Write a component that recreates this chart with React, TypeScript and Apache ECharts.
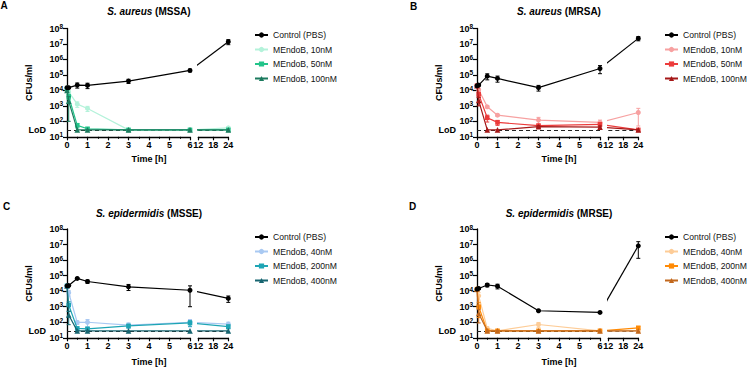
import React, { useEffect, useRef } from 'react';
import * as echarts from 'echarts';

const FONT = '"Liberation Sans", Arial, Helvetica, sans-serif';

// sampling times [h]
const TIMES = [0, 0.083, 0.5, 1, 3, 6, 24];
const LOD = 28;

// ---------- Panel A: S. aureus (MSSA)
const A_LABELS = ['Control (PBS)', 'MEndoB, 10nM', 'MEndoB, 50nM', 'MEndoB, 100nM'];
const A_COLORS = ['#000000', '#b4f2da', '#23c48a', '#1c7a5e'];
const A_CONTROL = [1.5e4, 1.5e4, 2.2e4, 2.1e4, 4.0e4, 1.95e5, 1.4e7];
const A_CONTROL_SD = [0, 0, 8e3, 8e3, 1.2e4, 4e4, 5e6];
const A_10NM = [1.5e4, 8.0e3, 1.3e3, 6.8e2, 28, 28, 38];
const A_10NM_SD = [0, 2e3, 5e2, 2.5e2, 0, 0, 6];
const A_50NM = [1.2e4, 4.0e3, 55, 33, 28, 28, 28];
const A_50NM_SD = [0, 1.5e3, 18, 6, 0, 0, 4];
const A_100NM = [1.0e4, 2.0e3, 28, 28, 28, 28, 28];
const A_100NM_SD = [0, 1.9e3, 0, 0, 0, 0, 0];

// ---------- Panel B: S. aureus (MRSA)
const B_LABELS = ['Control (PBS)', 'MEndoB, 10nM', 'MEndoB, 50nM', 'MEndoB, 100nM'];
const B_COLORS = ['#000000', '#f7a1a1', '#ec3b3b', '#a51818'];
const B_CONTROL = [2.0e4, 2.2e4, 8.3e4, 5.9e4, 1.5e4, 2.6e5, 2.3e7];
const B_CONTROL_SD = [0, 3e3, 3.5e4, 2.5e4, 6e3, 1.4e5, 7e6];
const B_10NM = [2.0e4, 1.1e4, 8.7e2, 2.5e2, 1.2e2, 85, 3.7e2];
const B_10NM_SD = [0, 3e3, 1.5e2, 40, 60, 35, 3.2e2];
const B_50NM = [2.0e4, 5.5e3, 1.7e2, 85, 52, 63, 28];
const B_50NM_SD = [0, 2e3, 80, 30, 15, 20, 0];
const B_100NM = [2.0e4, 2.2e3, 28, 28, 45, 42, 28];
const B_100NM_SD = [0, 1.2e3, 0, 0, 8, 8, 0];

// ---------- Panel C: S. epidermidis (MSSE)
const C_LABELS = ['Control (PBS)', 'MEndoB, 40nM', 'MEndoB, 200nM', 'MEndoB, 400nM'];
const C_COLORS = ['#000000', '#a9c9f2', '#1ea5b5', '#176570'];
const C_CONTROL = [2.2e4, 2.3e4, 6.6e4, 4.2e4, 1.9e4, 1.15e4, 3.4e3];
const C_CONTROL_SD = [0, 2e3, 8e3, 1e4, 8e3, 1.05e4, 1.5e3];
const C_40NM = [2.2e4, 7.9e3, 97, 100, 66, 100, 76];
const C_40NM_SD = [0, 3e3, 25, 50, 25, 50, 25];
const C_200NM = [2.2e4, 1.3e3, 40, 38, 58, 90, 52];
const C_200NM_SD = [0, 8e2, 10, 8, 15, 35, 15];
const C_400NM = [2.2e4, 2.9e2, 28, 28, 28, 28, 28];
const C_400NM_SD = [0, 2.2e2, 0, 0, 0, 0, 0];

// ---------- Panel D: S. epidermidis (MRSE)
const D_LABELS = ['Control (PBS)', 'MEndoB, 40nM', 'MEndoB, 200nM', 'MEndoB, 400nM'];
const D_COLORS = ['#000000', '#fdcc97', '#ff8a05', '#c2681d'];
const D_CONTROL = [1.35e4, 1.5e4, 2.5e4, 2.1e4, 5.5e2, 4.3e2, 8.3e6];
const D_CONTROL_SD = [0, 2e3, 6e3, 7e3, 60, 60, 7e6];
const D_40NM = [1.35e4, 5.0e3, 40, 28, 72, 28, 28];
const D_40NM_SD = [0, 3e3, 12, 0, 25, 0, 0];
const D_200NM = [1.35e4, 1.0e3, 28, 28, 28, 28, 44];
const D_200NM_SD = [0, 8e2, 0, 0, 0, 0, 8];
const D_400NM = [1.35e4, 3.7e2, 28, 28, 28, 28, 28];
const D_400NM_SD = [0, 2.8e2, 0, 0, 0, 0, 0];

const SYMBOLS = ['circle', 'circle', 'rect', 'triangle'];
const SYMBOL_SIZES = [5, 5, 4.6, 5.6];

type PanelDef = {
  key: string; letter: string; species: string; strain: string;
  ox: number; oy: number; top: number; height: number; legendTop: number;
  labels: string[]; colors: string[]; values: number[][]; sds: number[][];
  letterPos: [number, number]; titleY: number; timeY: number;
};

const PANELS: PanelDef[] = [
  { key: 'A', letter: 'A', species: 'S. aureus', strain: 'MSSA', ox: 0, oy: 0, top: 28.5, height: 108.3, legendTop: 30,
    labels: A_LABELS, colors: A_COLORS, values: [A_CONTROL, A_10NM, A_50NM, A_100NM], sds: [A_CONTROL_SD, A_10NM_SD, A_50NM_SD, A_100NM_SD],
    letterPos: [0.5, 0.5], titleY: 11, timeY: 159 },
  { key: 'B', letter: 'B', species: 'S. aureus', strain: 'MRSA', ox: 410, oy: 0, top: 28.5, height: 108.3, legendTop: 30,
    labels: B_LABELS, colors: B_COLORS, values: [B_CONTROL, B_10NM, B_50NM, B_100NM], sds: [B_CONTROL_SD, B_10NM_SD, B_50NM_SD, B_100NM_SD],
    letterPos: [410, 1], titleY: 11, timeY: 159 },
  { key: 'C', letter: 'C', species: 'S. epidermidis', strain: 'MSSE', ox: 0, oy: 200, top: 229, height: 108.8, legendTop: 232,
    labels: C_LABELS, colors: C_COLORS, values: [C_CONTROL, C_40NM, C_200NM, C_400NM], sds: [C_CONTROL_SD, C_40NM_SD, C_200NM_SD, C_400NM_SD],
    letterPos: [3, 201], titleY: 213, timeY: 361.5 },
  { key: 'D', letter: 'D', species: 'S. epidermidis', strain: 'MRSE', ox: 410, oy: 200, top: 229, height: 108.8, legendTop: 232,
    labels: D_LABELS, colors: D_COLORS, values: [D_CONTROL, D_40NM, D_200NM, D_400NM], sds: [D_CONTROL_SD, D_40NM_SD, D_200NM_SD, D_400NM_SD],
    letterPos: [409, 201], titleY: 213, timeY: 361.5 },
];

// broken x axis geometry
const PLOT_LEFT = 67;
const LEFT_W = 123;     // 0..6 h
const GAP_W = 8.3;      // break
const RIGHT_W = 30;     // 12..24 h
const RIGHT_MIN = 12;
const RIGHT_MAX = 24;
// position of t=6 expressed in the right segment's own scale (used only so the line crossing the break is clipped straight)
const X6_IN_RIGHT = RIGHT_MIN - GAP_W / (RIGHT_W / (RIGHT_MAX - RIGHT_MIN));

function errSeries(name: string, data: number[][], color: string, xi: number, yi: number, z: number) {
  return {
    type: 'custom', name, xAxisIndex: xi, yAxisIndex: yi, silent: true, z,
    encode: { x: 0, y: 1 }, data,
    renderItem: (_p: any, api: any) => {
      const x = api.value(0), lo = api.value(2), hi = api.value(3);
      const a = api.coord([x, hi]);
      const b = api.coord([x, lo]);
      const w = 2;
      const st = { stroke: color, lineWidth: 1 };
      return {
        type: 'group',
        children: [
          { type: 'line', shape: { x1: a[0], y1: a[1], x2: b[0], y2: b[1] }, style: st },
          { type: 'line', shape: { x1: a[0] - w, y1: a[1], x2: a[0] + w, y2: a[1] }, style: st },
          { type: 'line', shape: { x1: b[0] - w, y1: b[1], x2: b[0] + w, y2: b[1] }, style: st },
        ],
      };
    },
  };
}

function buildOption() {
  const grid: any[] = [];
  const xAxis: any[] = [];
  const yAxis: any[] = [];
  const series: any[] = [];
  const legend: any[] = [];
  const graphic: any[] = [];

  const axisLineStyle = { color: '#000', width: 1.3 };
  const tickLabel = { fontSize: 9, fontWeight: 'bold', color: '#000', fontFamily: FONT };

  PANELS.forEach((p, pi) => {
    const li = pi * 2, ri = pi * 2 + 1;
    const gl = PLOT_LEFT + p.ox;
    grid.push({ left: gl, top: p.top, width: LEFT_W, height: p.height, containLabel: false, outerBoundsMode: 'none' });
    grid.push({ left: gl + LEFT_W + GAP_W, top: p.top, width: RIGHT_W, height: p.height, containLabel: false, outerBoundsMode: 'none' });

    xAxis.push({
      gridIndex: li, type: 'value', min: 0, max: 6, interval: 1,
      axisLine: { show: true, onZero: false, lineStyle: axisLineStyle },
      axisTick: { show: true, length: 3.5, lineStyle: { color: '#000', width: 1.2 } },
      minorTick: { show: true, splitNumber: 2, length: 2, lineStyle: { color: '#000', width: 1 } },
      splitLine: { show: false }, minorSplitLine: { show: false },
      axisLabel: { ...tickLabel, margin: 4, showMinLabel: true, showMaxLabel: true },
    });
    xAxis.push({
      gridIndex: ri, type: 'value', min: RIGHT_MIN, max: RIGHT_MAX, interval: 6,
      axisLine: { show: true, onZero: false, lineStyle: axisLineStyle },
      axisTick: { show: true, length: 3.5, lineStyle: { color: '#000', width: 1.2 } },
      splitLine: { show: false },
      axisLabel: { ...tickLabel, margin: 4, showMinLabel: true, showMaxLabel: true },
    });
    yAxis.push({
      gridIndex: li, type: 'log', logBase: 10, min: 10, max: 1e8,
      name: 'CFUs/ml', nameLocation: 'middle', nameGap: 34,
      nameTextStyle: { fontSize: 9, fontWeight: 'bold', color: '#000', fontFamily: FONT },
      axisLine: { show: true, onZero: false, lineStyle: axisLineStyle },
      axisTick: { show: true, length: 4, lineStyle: { color: '#000', width: 1.2 } },
      splitLine: { show: false },
      axisLabel: {
        margin: 4,
        formatter: (v: number) => `{b|10}{s|${Math.round(Math.log10(v))}}`,
        rich: {
          b: { fontSize: 9, fontWeight: 'bold', color: '#000', fontFamily: FONT, lineHeight: 11 },
          s: { fontSize: 6.5, fontWeight: 'bold', color: '#000', fontFamily: FONT, lineHeight: 7, verticalAlign: 'top' },
        },
      },
    });
    yAxis.push({ gridIndex: ri, type: 'log', logBase: 10, min: 10, max: 1e8, show: false });

    const drawOrder = [1, 2, 3, 0];
    drawOrder.forEach((g, oi) => {
      const name = `${p.key}|${p.labels[g]}`;
      const vals = p.values[g];
      const sds = p.sds[g];
      const color = p.colors[g];
      const z = 2 + oi;
      const leftData: number[][] = [];
      const leftErr: number[][] = [];
      const rightErr: number[][] = [];
      let rightData: any[] = [];
      TIMES.forEach((t, k) => {
        const v = vals[k];
        const sd = sds[k];
        if (t <= 6) {
          leftData.push([t, v]);
          if (sd > 0) leftErr.push([t, v, Math.max(v - sd, 10.5), v + sd]);
        } else {
          if (sd > 0) rightErr.push([t, v, Math.max(v - sd, 10.5), v + sd]);
        }
      });
      const i6 = TIMES.indexOf(6);
      rightData = [{ value: [X6_IN_RIGHT, vals[i6]], symbol: 'none' }];
      TIMES.forEach((t, k) => { if (t > 6) rightData.push([t, vals[k]]); });

      const common = {
        type: 'line', name, symbol: SYMBOLS[g], symbolSize: SYMBOL_SIZES[g], showSymbol: true,
        lineStyle: { color, width: 1.2 }, itemStyle: { color }, clip: true, z,
        emphasis: { disabled: true }, silent: true,
      };
      if (leftErr.length) series.push(errSeries(`err-${name}-l`, leftErr, color, li, li, z));
      const leftSeries: any = { ...common, xAxisIndex: li, yAxisIndex: li, data: leftData };
      const rightSeries: any = { ...common, xAxisIndex: ri, yAxisIndex: ri, data: rightData };
      if (oi === 0) {
        leftSeries.markLine = {
          silent: true, symbol: ['none', 'none'], z: 1, animation: false,
          data: [{ yAxis: LOD }],
          lineStyle: { type: [4, 3], color: '#222', width: 1.2 },
          label: { show: true, position: 'start', formatter: 'LoD', distance: 21, fontSize: 9, fontWeight: 'bold', color: '#000', fontFamily: FONT },
        };
        rightSeries.markLine = {
          silent: true, symbol: ['none', 'none'], z: 1, animation: false,
          data: [{ yAxis: LOD }],
          lineStyle: { type: [4, 3], color: '#222', width: 1.2 },
          label: { show: false },
        };
      }
      series.push(leftSeries);
      if (rightErr.length) series.push(errSeries(`err-${name}-r`, rightErr, color, ri, ri, z));
      series.push(rightSeries);
    });

    legend.push({
      orient: 'vertical', left: 254 + p.ox, top: p.legendTop, padding: 0,
      itemWidth: 13, itemHeight: 6.5, itemGap: 4.5, selectedMode: false,
      data: p.labels.map((l) => `${p.key}|${l}`),
      formatter: (n: string) => n.split('|')[1],
      textStyle: { fontSize: 8.6, fontFamily: FONT, color: '#111', lineHeight: 10 },
    });

    graphic.push({
      type: 'text', x: p.letterPos[0], y: p.letterPos[1],
      style: { text: p.letter, fontSize: 10, fontWeight: 'bold', fontFamily: FONT, fill: '#000', align: 'left', verticalAlign: 'top' },
    });
    graphic.push({
      type: 'text', x: 149 + p.ox, y: p.titleY,
      style: {
        text: `{i|${p.species}} {b|(${p.strain})}`,
        fontSize: 10, fontWeight: 'bold', fontFamily: FONT, fill: '#000',
        align: 'center', verticalAlign: 'middle',
        rich: {
          i: { fontSize: 10, fontWeight: 'bold', fontStyle: 'italic', fontFamily: FONT, fill: '#000' },
          b: { fontSize: 10, fontWeight: 'bold', fontFamily: FONT, fill: '#000' },
        },
      },
    });
    graphic.push({
      type: 'text', x: 149 + p.ox, y: p.timeY,
      style: { text: 'Time [h]', fontSize: 9, fontWeight: 'bold', fontFamily: FONT, fill: '#000', align: 'center', verticalAlign: 'middle' },
    });
  });

  return { animation: false, backgroundColor: '#ffffff', grid, xAxis, yAxis, series, legend, graphic };
}

export default function App() {
  const ref = useRef<HTMLDivElement>(null);
  useEffect(() => {
    document.body.style.margin = '0';
    if (!ref.current) return;
    const chart = echarts.init(ref.current, undefined, { renderer: 'svg' });
    chart.setOption(buildOption() as any);
    return () => chart.dispose();
  }, []);
  return <div ref={ref} style={{ width: 747, height: 367 }} />;
}
